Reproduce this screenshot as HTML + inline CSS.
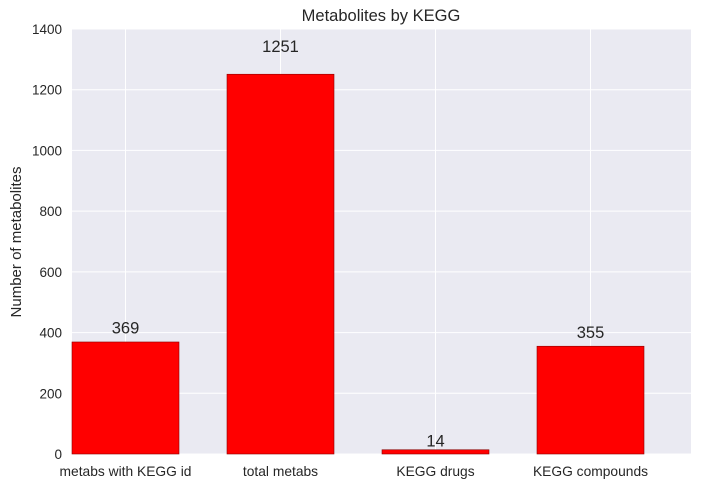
<!DOCTYPE html>
<html><head><meta charset="utf-8"><style>
body{margin:0;background:#fff;}
svg{display:block;font-family:"Liberation Sans","DejaVu Sans",sans-serif;}
</style></head><body>
<svg id="chart" width="701" height="488">
<rect x="72" y="29" width="619" height="425" fill="#EAEAF2"/>
<g id="grid"></g><g id="bars"></g><g id="labels"></g>
<text x="381" y="21" text-anchor="middle" font-size="16.5" fill="#262626">Metabolites by KEGG</text>
<text transform="translate(21,242) rotate(-90)" text-anchor="middle" font-size="15" fill="#262626">Number of metabolites</text>
</svg>
<script>
const categories=["metabs with KEGG id","total metabs","KEGG drugs","KEGG compounds"];
const values=[369,1251,14,355];
const yTicks=[0,200,400,600,800,1000,1200,1400];
const NS="http://www.w3.org/2000/svg";
const L=72,R=691,T=29,B=454,yMax=1400;
const y=v=>B-(v/yMax)*(B-T);
const step=155,bw=107;
const xc=i=>L+i*step+bw/2;
function mk(tag,attrs,parent,text){const e=document.createElementNS(NS,tag);for(const k in attrs)e.setAttribute(k,attrs[k]);if(text!==undefined)e.textContent=text;document.getElementById(parent).appendChild(e);return e;}
yTicks.forEach(t=>{
 const g=mk('line',{x1:L,x2:R,y1:y(t),y2:y(t),stroke:'#fff','stroke-width':1},'grid');
 
 
 const tx=mk('text',{x:L-10,y:y(t)+5,'text-anchor':'end','font-size':13.5,fill:'#262626'},'labels',t);
 
 
});
categories.forEach((c,i)=>{
 const g=mk('line',{x1:xc(i),x2:xc(i),y1:T,y2:B,stroke:'#fff','stroke-width':1},'grid');
 
 
 const b=mk('rect',{x:L+i*step,y:y(values[i]),width:bw,height:B-y(values[i]),fill:'#FF0000',stroke:'#8b0000','stroke-width':0.6},'bars');
 
 
 const v=mk('text',{x:xc(i),y:y(values[i]*1.05)-3,'text-anchor':'middle','font-size':16.5,fill:'#262626'},'labels',values[i]);
 
 
 const xl=mk('text',{x:xc(i),y:476,'text-anchor':'middle','font-size':13.8,fill:'#262626'},'labels',c);
 
 
});
</script>
</body></html>
